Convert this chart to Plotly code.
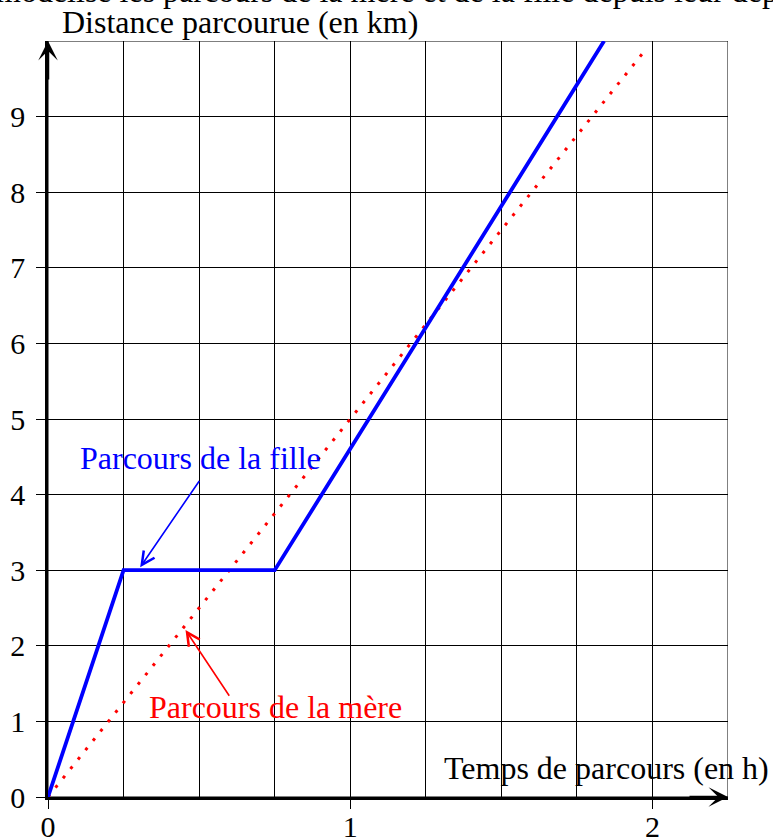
import plotly.graph_objects as go

# Data
girl_t = [0, 0.25, 0.75, 1.84]
girl_d = [0, 3, 3, 10]
mother_t = [0, 1.98]
mother_d = [0, 9.9]

x_ticks = [0, 1, 2]
x_tick_labels = ["0", "1", "2"]
y_ticks = [0, 1, 2, 3, 4, 5, 6, 7, 8, 9]
y_tick_labels = [str(v) for v in y_ticks]
x_grid_step = 0.25
x_max = 2.25
y_max = 10

FONT = "Liberation Serif"
FS = 32
FS_TICK = 30

fig = go.Figure()
fig.add_trace(go.Scatter(x=mother_t, y=mother_d, mode="lines",
                         line=dict(color="#ff0000", width=3, dash="3px,9px"),
                         showlegend=False, hoverinfo="skip"))
fig.add_trace(go.Scatter(x=girl_t, y=girl_d, mode="lines",
                         line=dict(color="#0000ff", width=3.8),
                         showlegend=False, hoverinfo="skip"))

# border of grid
fig.add_shape(type="rect", x0=0, y0=0, x1=x_max, y1=y_max, xref="x", yref="y",
              line=dict(color="black", width=1), layer="below")

W, H = 773, 840
ml, mr, mt, mb = 48, 45, 41, 43
pw, ph = W - ml - mr, H - mt - mb


def px(xp):
    return (xp - ml) / pw


def py(yp):
    return (H - mb - yp) / ph


ann = []
# axis arrows
ann.append(dict(x=x_max, y=0, ax=-40, ay=0, xref="x", yref="y",
                text="", showarrow=True, arrowhead=3, arrowsize=1.3, arrowwidth=2.5, arrowcolor="black"))
ann.append(dict(x=0, y=y_max, ax=0, ay=40, xref="x", yref="y",
                text="", showarrow=True, arrowhead=3, arrowsize=1.3, arrowwidth=2.5, arrowcolor="black"))
# axis titles
ann.append(dict(x=px(240), y=py(22), xref="paper", yref="paper", text="Distance parcourue (en km)",
                xanchor="center", yanchor="middle",
                showarrow=False, font=dict(family=FONT, size=FS, color="black")))
ann.append(dict(x=1.848, y=0.383, xref="x", yref="y", text="Temps de parcours (en h)",
                xanchor="center", yanchor="middle",
                showarrow=False, font=dict(family=FONT, size=FS, color="black")))
# series labels
ann.append(dict(x=0.505, y=4.49, xref="x", yref="y", text="Parcours de la fille",
                xanchor="center", yanchor="middle",
                showarrow=False, font=dict(family=FONT, size=FS, color="#0000ff")))
ann.append(dict(x=0.305, y=3.04, ax=0.504, ay=4.2, xref="x", yref="y", axref="x", ayref="y",
                text="", showarrow=True, arrowhead=5, arrowsize=1.6, arrowwidth=1.6, arrowcolor="#0000ff"))
ann.append(dict(x=0.752, y=1.19, xref="x", yref="y", text="Parcours de la mère",
                xanchor="center", yanchor="middle",
                showarrow=False, font=dict(family=FONT, size=FS, color="#ff0000")))
ann.append(dict(x=0.455, y=2.21, ax=0.603, ay=1.32, xref="x", yref="y", axref="x", ayref="y",
                text="", showarrow=True, arrowhead=5, arrowsize=1.6, arrowwidth=1.6, arrowcolor="#ff0000"))
# cut-off heading at top (only its lower edge is visible, as in the reference)
ann.append(dict(x=px(-6), y=py(-9), xref="paper", yref="paper",
                text="modélise les parcours de la mère et de la fille depuis leur départ",
                showarrow=False, xanchor="left", yanchor="middle",
                font=dict(family=FONT, size=FS, color="black")))

fig.update_layout(
    template="none",
    width=W, height=H,
    margin=dict(l=ml, r=mr, t=mt, b=mb, pad=0, autoexpand=False),
    paper_bgcolor="white", plot_bgcolor="white",
    annotations=ann,
    font=dict(family=FONT, size=FS_TICK, color="black"),
    xaxis=dict(range=[0, x_max], tickmode="array", tickvals=x_ticks, ticktext=x_tick_labels,
               automargin=False,
               showgrid=True, gridcolor="black", gridwidth=1,
               minor=dict(dtick=x_grid_step, tick0=0, showgrid=True, gridcolor="black", gridwidth=1, ticks=""),
               showline=True, linecolor="black", linewidth=2.5,
               ticks="outside", ticklen=9, tickwidth=1, tickcolor="black",
               ticklabelstandoff=-8, zeroline=False,
               tickfont=dict(family=FONT, size=FS_TICK, color="black")),
    yaxis=dict(range=[0, y_max], tickmode="array", tickvals=y_ticks, ticktext=y_tick_labels,
               automargin=False,
               showgrid=True, gridcolor="black", gridwidth=1,
               showline=True, linecolor="black", linewidth=2.5,
               ticks="outside", ticklen=9, tickwidth=1, tickcolor="black",
               ticklabelstandoff=5, zeroline=False,
               tickfont=dict(family=FONT, size=FS_TICK, color="black")),
)

fig.write_html("out.html", config={"displayModeBar": False},
               post_script="document.body.style.margin='0';")
